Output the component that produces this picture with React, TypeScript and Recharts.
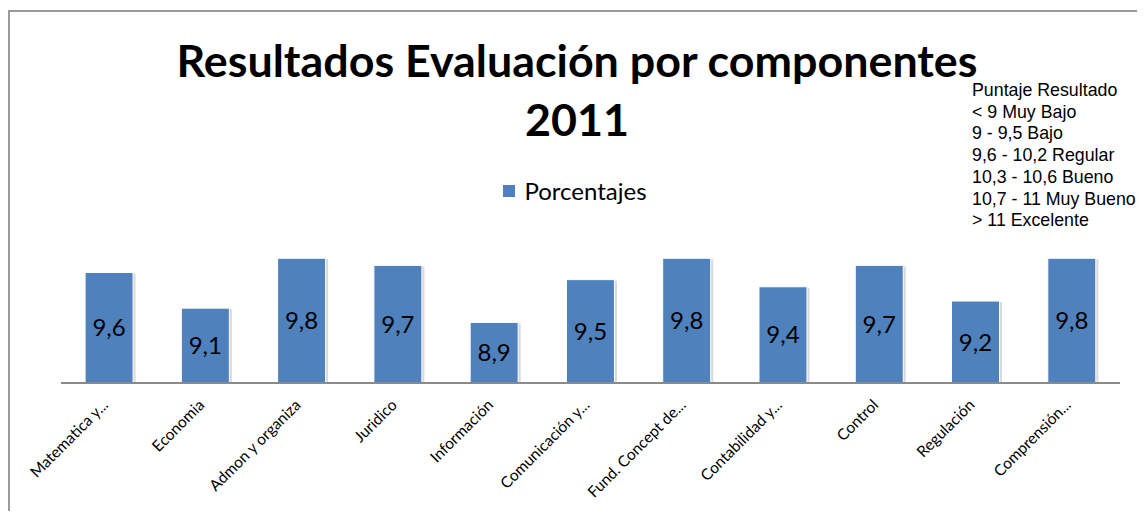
import React from "react";
import {
  BarChart,
  Bar,
  XAxis,
  YAxis,
  Legend,
  LabelList,
} from "recharts";

const componentes = [
  "Matematica y...",
  "Economia",
  "Admon y organiza",
  "Juridico",
  "Información",
  "Comunicación y...",
  "Fund. Concept de...",
  "Contabilidad y...",
  "Control",
  "Regulación",
  "Comprensión...",
];

const porcentajes = [9.6, 9.1, 9.8, 9.7, 8.9, 9.5, 9.8, 9.4, 9.7, 9.2, 9.8];

const escala = [
  "Puntaje Resultado",
  "< 9 Muy Bajo",
  "9 - 9,5 Bajo",
  "9,6 - 10,2 Regular",
  "10,3 - 10,6 Bueno",
  "10,7 - 11 Muy Bueno",
  "> 11 Excelente",
];

const data = componentes.map((name, i) => ({ name, Porcentajes: porcentajes[i] }));

const AZUL = "#4f81bd";
const FONT = "Lato, 'Noto Sans', sans-serif";

const decimalComa = (v: any) => String(v).replace(".", ",");

// etiqueta del eje X girada 45 grados
const TickGirado = ({ x, y, payload }: any) => (
  <g transform={`translate(${x},${y + 15})`}>
    <text
      transform="rotate(-45)"
      textAnchor="end"
      fontFamily={FONT}
      fontSize={15.5}
      fill="#000"
    >
      {payload.value}
    </text>
  </g>
);

// barra con borde blanco y una sombra gris suave
const BarraSombra = ({ x, y, width, height, fill }: any) => (
  <g>
    <rect x={x + 1.5} y={y + 1} width={width + 1} height={height} fill="#cfcfcf" opacity={0.8} />
    <rect x={x} y={y} width={width} height={height} fill={fill} stroke="#ffffff" strokeWidth={1} />
  </g>
);

const LeyendaSerie = ({ payload }: any) => (
  <div style={{ display: "flex", justifyContent: "center", alignItems: "center" }}>
    {(payload || []).map((p: any) => (
      <div key={p.value} style={{ display: "flex", alignItems: "center" }}>
        <span
          style={{
            display: "inline-block",
            width: 12,
            height: 12,
            background: AZUL,
            marginRight: 9,
          }}
        />
        <span style={{ fontFamily: FONT, fontSize: 24, color: "#000" }}>{p.value}</span>
      </div>
    ))}
  </div>
);

export default function App() {
  return (
    <div
      style={{
        position: "relative",
        margin: -8,
        width: 1145,
        height: 519,
        overflow: "hidden",
        background: "#fff",
      }}
    >
      <div
        style={{
          position: "absolute",
          left: 8,
          top: 10,
          width: 1300,
          height: 700,
          borderTop: "2px solid #9a9a9a",
          borderLeft: "2px solid #9a9a9a",
        }}
      />
      <div
        style={{
          position: "absolute",
          left: 0,
          width: 1154,
          top: 31,
          textAlign: "center",
          fontFamily: FONT,
          fontWeight: 700,
          fontSize: 44.8,
          lineHeight: "59px",
          color: "#000",
        }}
      >
        Resultados Evaluación por componentes
        <br />
        2011
      </div>
      <div
        style={{
          position: "absolute",
          left: 972,
          top: 80,
          fontFamily: "'Liberation Sans', Arial, sans-serif",
          fontSize: 17.8,
          lineHeight: "21.7px",
          color: "#000",
          whiteSpace: "nowrap",
        }}
      >
        {escala.map((t) => (
          <div key={t}>{t}</div>
        ))}
      </div>
      <div style={{ position: "absolute", left: 0, top: 0 }}>
        <BarChart
          width={1145}
          height={519}
          data={data}
          margin={{ top: 244, right: 25, left: 61, bottom: 0 }}
          barCategoryGap="25%"
        >
          <XAxis
            dataKey="name"
            height={136}
            interval={0}
            tickLine={false}
            axisLine={{ stroke: "#8a8a8a", strokeWidth: 2 }}
            tick={<TickGirado />}
          />
          <YAxis hide domain={[8.05, 10]} allowDataOverflow />
          <Legend
            layout="horizontal"
            verticalAlign="middle"
            align="center"
            content={<LeyendaSerie />}
            wrapperStyle={{ top: 176, left: 0, width: 1150, height: 30 }}
          />
          <Bar
            dataKey="Porcentajes"
            fill={AZUL}
            shape={<BarraSombra />}
            isAnimationActive={false}
          >
            <LabelList
              dataKey="Porcentajes"
              position="center"
              formatter={decimalComa}
              fill="#000"
              fontFamily={FONT}
              fontSize={24}
            />
          </Bar>
        </BarChart>
      </div>
    </div>
  );
}
